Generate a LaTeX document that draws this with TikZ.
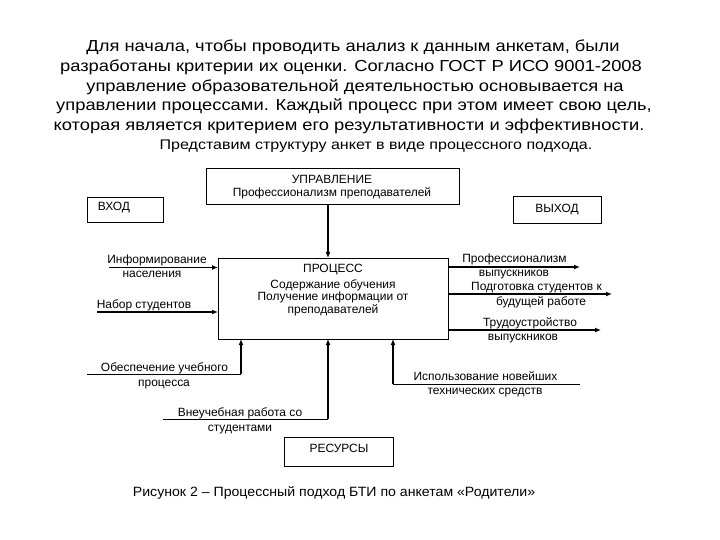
\documentclass[tikz,border=0pt]{standalone}
\usepackage{fontspec}
\usepackage{graphicx}
\setmainfont{Liberation Sans}
\usetikzlibrary{arrows.meta}
\newcommand{\titlefont}{\fontsize{16}{20}\selectfont}
\newcommand{\subfont}{\fontsize{14}{16}\selectfont}
\newcommand{\capfont}{\fontsize{13.5}{16}\selectfont}
\newcommand{\lblfont}{\fontsize{12}{14}\selectfont}
\newcommand{\widetxt}[1]{\scalebox{1.15}[1]{#1}}
\begin{document}
\begin{tikzpicture}[x=1bp,y=-1bp,
  txt/.style={inner sep=0pt, anchor=base},
  lbl/.style={inner sep=0pt, anchor=base, font=\lblfont},
  box/.style={draw=black, line width=0.9bp, inner sep=0pt},
  arr/.style={line width=1.8bp, -{Latex[length=6bp,width=5bp]}},
  thinarr/.style={line width=1.2bp, -{Latex[length=6bp,width=5bp]}},
  thin/.style={line width=0.9bp}]
\useasboundingbox (0,0) rectangle (720,540);
% title
\node[txt, font=\titlefont] (t1) at (353,52) {\widetxt{Для начала, чтобы проводить анализ к данным анкетам, были}};
\node[txt, font=\titlefont] (t2) at (351,72) {\widetxt{разработаны критерии их оценки. Согласно ГОСТ Р ИСО 9001-2008}};
\node[txt, font=\titlefont] (t3) at (355,91.5) {\widetxt{управление образовательной деятельностью основывается на}};
\node[txt, font=\titlefont] (t4) at (354,111) {\widetxt{управлении процессами. Каждый процесс при этом имеет свою цель,}};
\node[txt, font=\titlefont] (t5) at (349,131) {\widetxt{которая является критерием его результативности и эффективности.}};
\node[txt, font=\subfont] (t6) at (376,149.5) {\widetxt{Представим структуру анкет в виде процессного подхода.}};
% boxes
\draw[box] (206,168) rectangle (459,204);
\coordinate (ctrlbot) at (328,204);
\node[lbl] (u1) at (332,184) {УПРАВЛЕНИЕ};
\node[lbl] (u2) at (332,196.5) {Профессионализм преподавателей};
\draw[box] (87,197) rectangle (163,222.5);
\node[lbl] (vhod) at (114,210.5) {ВХОД};
\draw[box] (513,196) rectangle (601,223);
\node[lbl] (vyhod) at (557,212.5) {ВЫХОД};
\draw[box] (218,258) rectangle (448,339);
\node[lbl] (p1) at (333,273) {ПРОЦЕСС};
\node[lbl] (p2) at (333,288) {Содержание обучения};
\node[lbl] (p3) at (333,300.5) {Получение информации от};
\node[lbl] (p4) at (333,313) {преподавателей};
\draw[box] (284,437) rectangle (393,466);
\node[lbl] (res) at (339,452.5) {РЕСУРСЫ};
% control
\coordinate (proctop) at (328,258);
\draw[arr] (ctrlbot) -- (proctop);
% inputs
\coordinate (i1s) at (109,267.5); \coordinate (i1e) at (218,267.5);
\coordinate (i2s) at (97,312); \coordinate (i2e) at (218,312);
\draw[arr] (i1s) -- (i1e);
\draw[arr] (i2s) -- (i2e);
\node[lbl] (li1a) at (157,264) {Информирование};
\node[lbl] (li1b) at (152,278) {населения};
\node[lbl] (li2) at (144,308) {Набор студентов};
% outputs
\coordinate (o1s) at (448,267); \coordinate (o1e) at (580,267);
\coordinate (o2s) at (448,294); \coordinate (o2e) at (612,294);
\coordinate (o3s) at (448,330); \coordinate (o3e) at (601,330);
\draw[arr] (o1s) -- (o1e);
\draw[arr] (o2s) -- (o2e);
\draw[arr] (o3s) -- (o3e);
\node[lbl] (lo1a) at (514.5,263) {Профессионализм};
\node[lbl] (lo1b) at (514,277) {выпускников};
\node[lbl] (lo2a) at (536.5,290) {Подготовка студентов к};
\node[lbl] (lo2b) at (541,305) {будущей работе};
\node[lbl] (lo3a) at (530,326.5) {Трудоустройство};
\node[lbl] (lo3b) at (523,340.5) {выпускников};
% mechanisms
\coordinate (m1s) at (87,374); \coordinate (m1c) at (241,374); \coordinate (m1e) at (241,339);
\coordinate (m2s) at (163,419); \coordinate (m2c) at (328,419); \coordinate (m2e) at (328,339);
\coordinate (m3s) at (580,384); \coordinate (m3c) at (393,384); \coordinate (m3e) at (393,339);
\draw[thin] (m1s) -- (m1c); \draw[arr] (m1c) -- (m1e);
\draw[thin] (m2s) -- (m2c); \draw[arr] (m2c) -- (m2e);
\draw[thin] (m3s) -- (m3c); \draw[thinarr] (m3c) -- (m3e);
\node[lbl] (lm1a) at (164.5,371.5) {Обеспечение учебного};
\node[lbl] (lm1b) at (164,386) {процесса};
\node[lbl] (lm2a) at (240,416.5) {Внеучебная работа со};
\node[lbl] (lm2b) at (240,431) {студентами};
\node[lbl] (lm3a) at (485.5,380) {Использование новейших};
\node[lbl] (lm3b) at (485,394) {технических средств};
% caption
\node[txt, font=\capfont] (cap) at (334,496) {\scalebox{1.05}[1]{Рисунок 2 – Процессный подход БТИ по анкетам «Родители»}};
\end{tikzpicture}
\end{document}
